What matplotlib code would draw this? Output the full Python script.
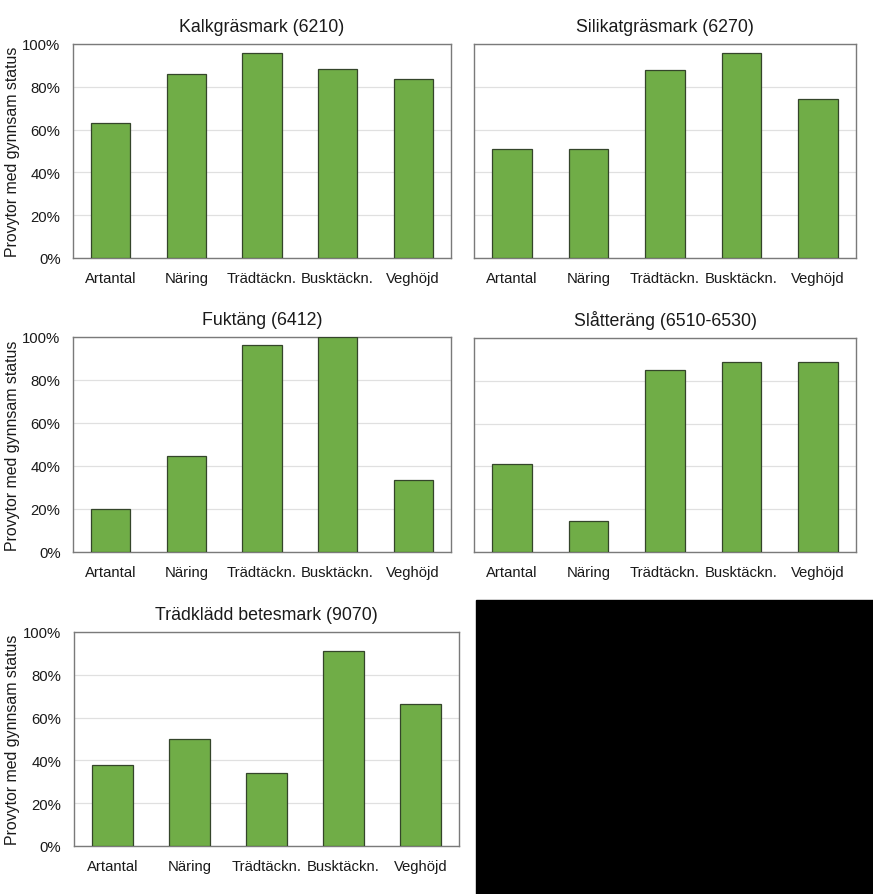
import matplotlib.pyplot as plt
from matplotlib.ticker import PercentFormatter
from matplotlib.patches import Rectangle

plt.rcParams['font.family'] = ['Liberation Sans', 'DejaVu Sans']

kategorier = ['Artantal', 'Näring', 'Trädtäckn.', 'Busktäckn.', 'Veghöjd']
titlar = ['Kalkgräsmark (6210)', 'Silikatgräsmark (6270)', 'Fuktäng (6412)',
          'Slåtteräng (6510-6530)', 'Trädklädd betesmark (9070)']

kalkgrasmark = [0.63, 0.86, 0.96, 0.885, 0.835]
silikatgrasmark = [0.51, 0.51, 0.88, 0.96, 0.745]
fuktang = [0.20, 0.445, 0.965, 1.0, 0.335]
slattereng = [0.41, 0.147, 0.85, 0.89, 0.89]
tradkladd = [0.38, 0.50, 0.34, 0.91, 0.665]
serier = [kalkgrasmark, silikatgrasmark, fuktang, slattereng, tradkladd]

W, H = 873, 895
fig = plt.figure(figsize=(W / 100, H / 100), dpi=100)

# axes boxes in pixels: left, top, right, bottom
boxar = [(73, 45, 451, 259), (474, 45, 856, 259),
         (73, 338, 451, 553), (474, 339, 856, 553),
         (74, 633, 459, 847)]

for i, (serie, titel, box) in enumerate(zip(serier, titlar, boxar)):
    l, t, r, b = box
    ax = fig.add_axes([l / W, 1 - b / H, (r - l) / W, (b - t) / H])
    ax.bar(range(5), serie, width=0.52, color='#70AD47', edgecolor='#34452a',
           linewidth=0.9, zorder=3)
    ax.set_xlim(-0.5, 4.5)
    ax.set_ylim(0, 1)
    ax.set_yticks([0, 0.2, 0.4, 0.6, 0.8, 1.0])
    ax.yaxis.set_major_formatter(PercentFormatter(1.0, decimals=0))
    ax.grid(axis='y', color='#e0e0e0', linewidth=0.9, zorder=0)
    ax.set_xticks(range(5))
    ax.set_xticklabels(kategorier)
    ax.tick_params(length=0, labelsize=10.7, colors='#1a1a1a')
    ax.tick_params(axis='y', pad=9)
    ax.tick_params(axis='x', pad=9.5)
    for s in ax.spines.values():
        s.set_color('#7a7a7a')
        s.set_linewidth(1.0)
    ax.set_title(titel, fontsize=12.8, pad=9, color='#1a1a1a')
    if i in (1, 3):
        ax.set_yticklabels([])
    else:
        ax.set_ylabel('Provytor med gynnsam status', fontsize=11.4,
                      color='#1a1a1a', va='center')
        ax.yaxis.set_label_coords((13 - l) / (r - l), 0.5)

fig.patches.append(Rectangle((476 / W, 0), (W - 476) / W, (H - 601) / H,
                             transform=fig.transFigure, color='black', zorder=10))

fig.savefig('out.png', dpi=100, facecolor='white')
